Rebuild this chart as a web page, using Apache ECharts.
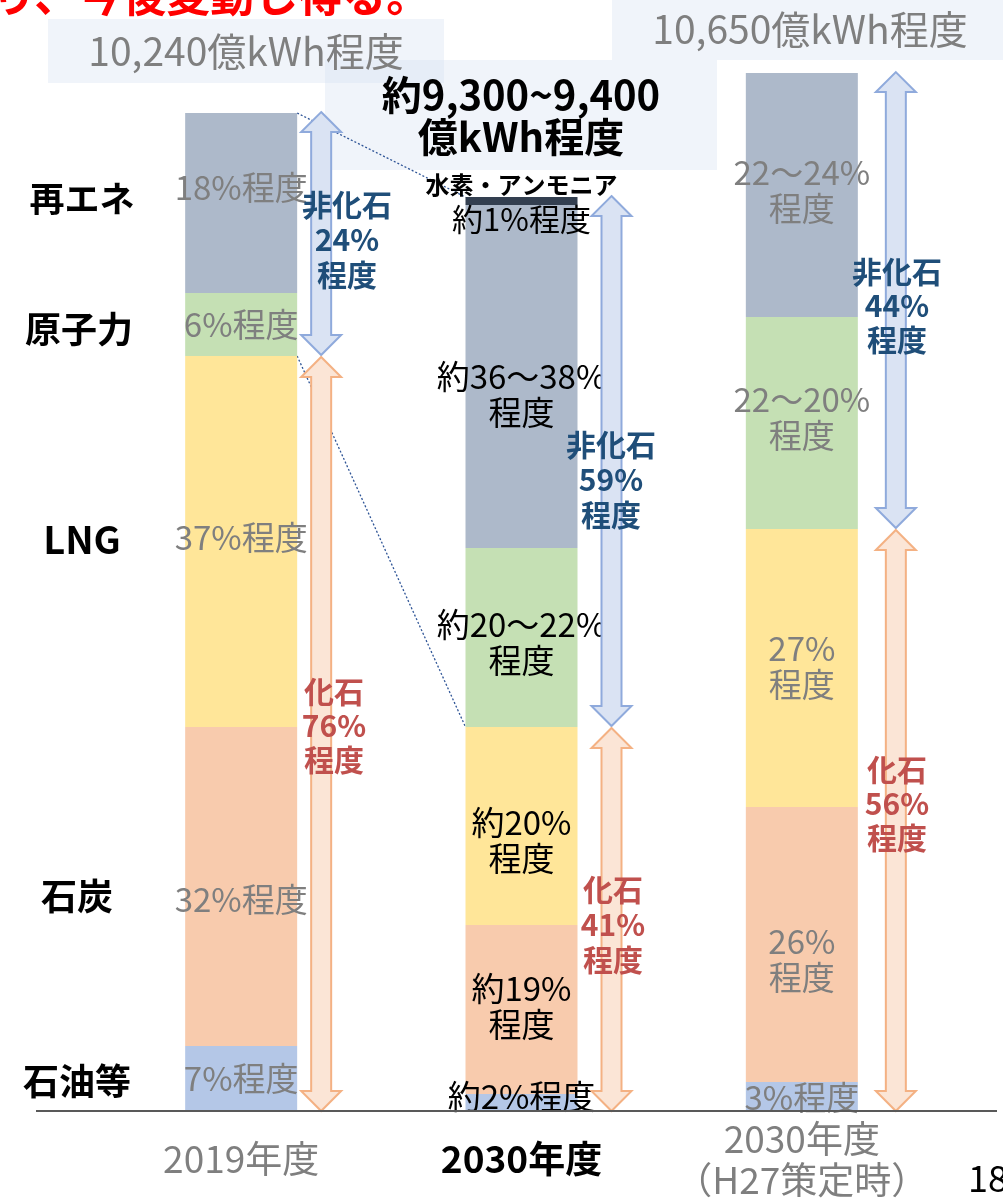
<!DOCTYPE html>
<html><head><meta charset="utf-8">
<script src="https://cdn.jsdelivr.net/npm/echarts@6/dist/echarts.min.js"></script>
<style>html,body{margin:0;padding:0;background:#fff}#c{width:1003px;height:1198px}</style>
</head><body><div id="c"></div>
<script>
// ---- data (億kWh) ----
const categories = ['2019年度', '2030年度', '2030年度\n（H27策定時）'];
const oil      = [667, 174, 298];
const coal     = [3273, 1734, 2822];
const lng      = [3807, 2032, 2852];
const nuclear  = [646, 1837, 2175];
const renew    = [1847, 3519, 2503];
const hydrogen = [0, 82, 0];

const totalLabels    = ['10,240億kWh程度', '約9,300~9,400\n億kWh程度', '10,650億kWh程度'];
const oilLabels      = ['7%程度', '約2%程度', '3%程度'];
const coalLabels     = ['32%程度', '約19%\n程度', '26%\n程度'];
const lngLabels      = ['37%程度', '約20%\n程度', '27%\n程度'];
const nuclearLabels  = ['6%程度', '約20～22%\n程度', '22～20%\n程度'];
const renewLabels    = ['18%程度', '約36～38%\n程度', '22～24%\n程度'];
const hydrogenLabels = ['', '{h|水素・アンモニア}\n{n|約1%程度}', ''];
const nonFossilLabels = ['非化石\n24%\n程度', '非化石\n59%\n程度', '非化石\n44%\n程度'];
const fossilLabels    = ['化石\n76%\n程度', '化石\n41%\n程度', '化石\n56%\n程度'];
const sourceNames = ['再エネ', '原子力', 'LNG', '石炭', '石油等'];
const headerText = 'り、今後変動し得る。';
const pageNo = '18';

// ---- styling ----
const FONT = '"Noto Sans CJK JP", "Noto Sans", sans-serif';
const labelColors = ['#7f7f7f', '#000000', '#7f7f7f'];
const BAR_W = 112;
const arrowOffsets = [80, 90, 94];

function items(vals, labels, offs) {
  return vals.map((v, i) => ({
    value: v,
    label: { show: labels[i] !== '', formatter: labels[i], color: labelColors[i], offset: [0, offs[i]] }
  }));
}
function barSeries(name, vals, labels, color, offs, extra) {
  return Object.assign({
    name, type: 'bar', stack: 'total', barWidth: BAR_W,
    itemStyle: { color },
    label: { show: true, position: 'inside', fontFamily: FONT, fontSize: 33, lineHeight: 36 },
    data: items(vals, labels, offs), z: 2
  }, extra || {});
}

const fossilSum = oil.map((v, i) => v + coal[i] + lng[i]);
const totals = fossilSum.map((v, i) => v + nuclear[i] + renew[i] + hydrogen[i]);

const arrowData = [];
categories.forEach((c, i) => {
  arrowData.push([i, fossilSum[i], totals[i], 0]);
  arrowData.push([i, 0, fossilSum[i], 1]);
});

function txt(x, y, text, font, fill, lh) {
  return { type: 'text', z: 10, x, y, style: { text, font: font + ' ' + FONT, fill, lineHeight: lh, align: 'center', verticalAlign: 'middle' } };
}

const chart = echarts.init(document.getElementById('c'));
chart.setOption({
  animation: false,
  backgroundColor: '#ffffff',
  grid: { left: 101, right: 61, top: 0, bottom: 87, outerBoundsMode: 'none' },
  xAxis: {
    type: 'category', data: categories,
    axisLine: { show: false }, axisTick: { show: false },
    axisLabel: {
      margin: 48, verticalAlign: 'middle', interval: 0,
      formatter: (v, idx) => idx === 1 ? '{b|' + v + '}' : v.split('\n').map(s => '{g|' + s + '}').join('\n'),
      rich: {
        g: { fontFamily: FONT, fontSize: 37, color: '#7f7f7f', lineHeight: 41 },
        b: { fontFamily: FONT, fontSize: 37, color: '#000', fontWeight: 'bold', lineHeight: 41 }
      }
    }
  },
  yAxis: { type: 'value', min: 0, max: 11400, show: false, splitLine: { show: false } },
  series: [
    barSeries('石油等', oil, oilLabels, '#b4c7e7', [0, -6, 1]),
    barSeries('石炭', coal, coalLabels, '#f8cbad', [13, -3, 15]),
    barSeries('LNG', lng, lngLabels, '#ffe699', [-4, 14, -2]),
    barSeries('原子力', nuclear, nuclearLabels, '#c5e0b4', [0, 5, -6]),
    barSeries('再エネ', renew, renewLabels, '#adb9ca', [-16, 18, -5]),
    barSeries('水素・アンモニア', hydrogen, hydrogenLabels, '#333f50', [0, 1, 0], {
      label: {
        show: true, position: 'inside', fontFamily: FONT,
        rich: {
          h: { fontFamily: FONT, fontSize: 24, fontWeight: 'bold', color: '#000', lineHeight: 34 },
          n: { fontFamily: FONT, fontSize: 31, color: '#000', lineHeight: 34 }
        }
      }
    }),
    {
      name: 'connectors', type: 'custom', z: 1, silent: true,
      data: [[0, totals[0], 1, totals[1]], [0, fossilSum[0], 1, fossilSum[1]]],
      renderItem: (params, api) => {
        const a = api.coord([api.value(0), api.value(1)]);
        const b = api.coord([api.value(2), api.value(3)]);
        return { type: 'line', shape: { x1: a[0] + BAR_W / 2, y1: a[1], x2: b[0] - BAR_W / 2, y2: b[1] },
          style: { stroke: '#2f5597', lineWidth: 1.3, lineDash: [2, 2] } };
      }
    },
    {
      name: 'arrows', type: 'custom', z: 3, silent: true,
      data: arrowData,
      renderItem: (params, api) => {
        const i = api.value(0), lo = api.value(1), hi = api.value(2), kind = api.value(3);
        const t = api.coord([i, hi]), b = api.coord([i, lo]);
        const x = t[0] + arrowOffsets[i];
        const y1 = t[1] + (kind === 1 ? 1 : -1), y2 = b[1] - (kind === 0 ? 1 : 0);
        const sw = 10, hw = 20, hl = 20;
        const pts = [[x, y1], [x + hw, y1 + hl], [x + sw, y1 + hl], [x + sw, y2 - hl], [x + hw, y2 - hl],
          [x, y2], [x - hw, y2 - hl], [x - sw, y2 - hl], [x - sw, y1 + hl], [x - hw, y1 + hl]];
        return { type: 'polygon', shape: { points: pts },
          style: kind === 0 ? { fill: '#dae3f3', stroke: '#8faadc', lineWidth: 2 }
                            : { fill: '#fbe5d6', stroke: '#f4b183', lineWidth: 2 } };
      }
    }
  ],
  graphic: [
    { type: 'rect', z: 0, shape: { x: 48, y: 19, width: 396, height: 64 }, style: { fill: 'rgba(214,224,240,0.36)' } },
    { type: 'rect', z: 0, shape: { x: 325, y: 60, width: 392, height: 110 }, style: { fill: 'rgba(214,224,240,0.36)' } },
    { type: 'rect', z: 0, shape: { x: 612, y: 0, width: 391, height: 60 }, style: { fill: 'rgba(214,224,240,0.36)' } },
    txt(246, 51, totalLabels[0], '39px', '#7f7f7f'),
    txt(521, 116, totalLabels[1], 'bold 40px', '#000', 42),
    txt(810, 29, totalLabels[2], '39px', '#7f7f7f'),
    { type: 'text', z: 10, x: -8, y: 17, style: { text: headerText, font: 'bold 44px ' + FONT, fill: '#ff0000', align: 'left', verticalAlign: 'bottom' } },
    { type: 'line', z: 5, shape: { x1: 36, y1: 1111, x2: 997, y2: 1111 }, style: { stroke: '#595959', lineWidth: 2 } },
    txt(82, 199, sourceNames[0], 'bold 35px', '#000'),
    txt(79, 329, sourceNames[1], 'bold 36px', '#000'),
    txt(82, 540, sourceNames[2], 'bold 38px', '#000'),
    txt(77, 896, sourceNames[3], 'bold 36px', '#000'),
    txt(77, 1081, sourceNames[4], 'bold 36px', '#000'),
    txt(347, 240, nonFossilLabels[0], 'bold 30px', '#1f4e79', 35),
    txt(611, 480, nonFossilLabels[1], 'bold 30px', '#1f4e79', 35),
    txt(897, 306, nonFossilLabels[2], 'bold 30px', '#1f4e79', 34),
    txt(334, 726, fossilLabels[0], 'bold 30px', '#c0504d', 34),
    txt(613, 925, fossilLabels[1], 'bold 30px', '#c0504d', 35),
    txt(897, 804, fossilLabels[2], 'bold 30px', '#c0504d', 34),
    { type: 'text', z: 10, x: 968, y: 1178, style: { text: pageNo, font: '36px ' + FONT, fill: '#000', align: 'left', verticalAlign: 'middle' } }
  ]
});
</script>
</body></html>
